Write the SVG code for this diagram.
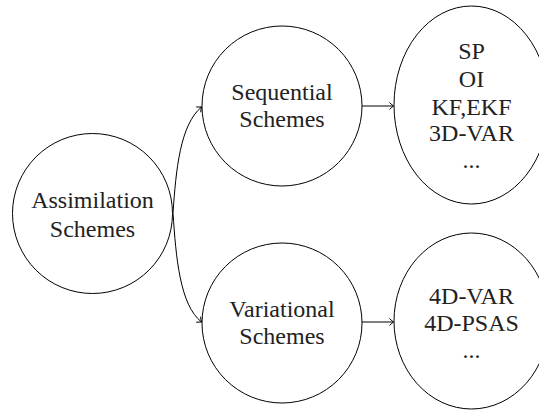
<svg xmlns="http://www.w3.org/2000/svg" width="539" height="410" viewBox="0 0 539 410">
<style>
.n{fill:#fff;stroke:#000;stroke-width:1}
.t{font-family:'Liberation Serif','Times New Roman',Times,'Noto Serif','DejaVu Serif',FreeSerif,'Nimbus Roman',Georgia,serif;font-size:24px;fill:#222;text-anchor:middle}
.c{fill:none;stroke:#000;stroke-width:1}
</style>
<defs>
<marker id="ah" markerUnits="userSpaceOnUse" markerWidth="10" markerHeight="10" viewBox="-5 -5 10 10" refX="0" refY="0" orient="auto">
<path d="M-4,-3.5 Q-1.2,-0.8 0,0 Q-1.2,0.8 -4,3.5" fill="none" stroke="#000" stroke-width="1"/>
</marker>
</defs>
<g id="connectors">
<path class="c" d="M173,213 C176,170 180,125 201.5,107" marker-end="url(#ah)"/>
<path class="c" d="M173,213 C176,258 180,305 201.5,322" marker-end="url(#ah)"/>
<path class="c" d="M362,106 L393.5,106" marker-end="url(#ah)"/>
<path class="c" d="M362,322 L393.5,322" marker-end="url(#ah)"/>
</g>
<g id="assimilation">
<circle class="n" cx="92.5" cy="213.5" r="80"/>
<text class="t" x="92.5" y="208">Assimilation</text>
<text class="t" x="92.5" y="237">Schemes</text>
</g>
<g id="sequential">
<circle class="n" cx="282" cy="106" r="80"/>
<text class="t" x="282" y="100">Sequential</text>
<text class="t" x="282" y="127">Schemes</text>
</g>
<g id="variational">
<circle class="n" cx="282" cy="323" r="80"/>
<text class="t" x="282" y="317">Variational</text>
<text class="t" x="282" y="344">Schemes</text>
</g>
<g id="seqmethods">
<ellipse class="n" cx="471.5" cy="105" rx="77.5" ry="99"/>
<text class="t" x="471.5" y="59">SP</text>
<text class="t" x="471.5" y="87">OI</text>
<text class="t" x="471.5" y="115">KF,EKF</text>
<text class="t" x="471.5" y="141">3D-VAR</text>
<text class="t" x="471.5" y="168">...</text>
</g>
<g id="varmethods">
<ellipse class="n" cx="471.5" cy="321" rx="77.5" ry="88"/>
<text class="t" x="471.5" y="304">4D-VAR</text>
<text class="t" x="471.5" y="331">4D-PSAS</text>
<text class="t" x="471.5" y="358">...</text>
</g>
</svg>
